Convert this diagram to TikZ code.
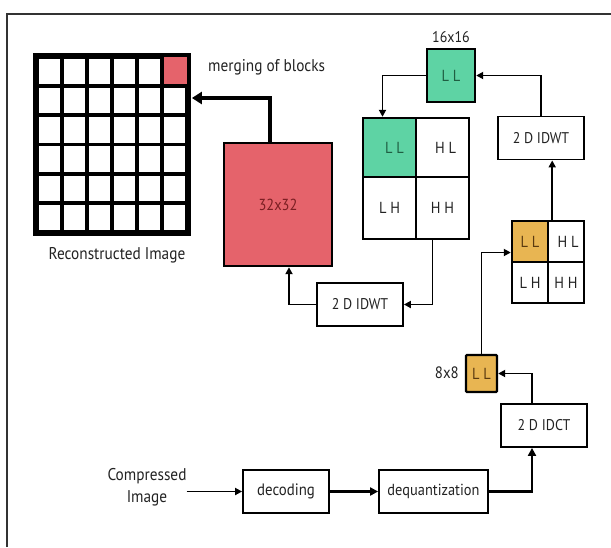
\documentclass[tikz,border=0pt]{standalone}
\usepackage{fontspec}
\setmainfont{PT Sans}[FakeStretch=0.9]
\usetikzlibrary{arrows.meta}
\definecolor{redblk}{HTML}{E5636B}
\definecolor{greenblk}{HTML}{5ED3A4}
\definecolor{orangeblk}{HTML}{E8B552}
\definecolor{darkred}{HTML}{7A1E22}
\definecolor{darkgreen}{HTML}{1F5E42}
\definecolor{darkbrown}{HTML}{5A3A10}
\definecolor{framecol}{HTML}{333333}
\definecolor{txtcol}{HTML}{222222}
\tikzset{
  txt/.style={font=\fontsize{17}{20}\selectfont, inner sep=0pt, text=txtcol},
  box/.style={draw, line width=1.8pt, minimum width=#1, minimum height=43pt, inner sep=0pt, font=\fontsize{15.5}{18}\selectfont, text=txtcol},
  box/.default=86pt,
  cell/.style={draw, line width=2.4pt, inner sep=0pt, font=\fontsize{16}{18}\selectfont, text=txtcol},
  arrow/.style={line width=1.8pt, -{Triangle[length=7pt,width=7pt]}},
  thickarrow/.style={line width=2.6pt, -{Triangle[length=8pt,width=8pt]}}
}
\begin{document}
\begin{tikzpicture}[x=1pt,y=-1pt]
\useasboundingbox (0,0) rectangle (611,547);
% frame
\draw[line width=1.8pt, framecol] (7,547) -- (7,14) -- (611,14);

% reconstructed image grid
\node[draw, line width=3.8pt, minimum width=150pt, minimum height=175pt, inner sep=0pt] (img) at (112,144.5) {};
\fill[redblk] (162,57) rectangle (187,86.17);
\foreach \i in {1,...,5} {
  \draw[line width=3.8pt] (37+25*\i,57) -- (37+25*\i,232);
  \draw[line width=3.8pt] (37,57+29.1667*\i) -- (187,57+29.1667*\i);
}
\draw[line width=3.8pt] (img.north west) rectangle (img.south east);
\node[txt] (recon) at (117,255) {Reconstructed Image};
\node[txt, anchor=west] (merge) at (208,67) {merging of blocks};

% 32x32 block
\node[draw, line width=2.4pt, fill=redblk, minimum width=108pt, minimum height=123pt, inner sep=0pt, text=darkred, font=\fontsize{16}{18}\selectfont] (red) at (278,204.5) {32x32};

% lower 2D IDWT
\node[box] (idwtL) at (360,304.5) {2 D IDWT};

% big quad
\node[cell, fill=greenblk, minimum width=53pt, minimum height=59pt, text=darkgreen] (bLL) at (389.5,147.5) {\hspace{10pt}L L};
\node[cell, minimum width=53pt, minimum height=59pt] (bHL) at (442.5,147.5) {\hspace{6pt}H L};
\node[cell, minimum width=53pt, minimum height=62pt] (bLH) at (389.5,208) {L H};
\node[cell, minimum width=53pt, minimum height=62pt] (bHH) at (442.5,208) {H H};

% 16x16 LL
\node[cell, fill=greenblk, minimum width=48pt, minimum height=53pt, text=darkgreen] (ll16) at (451,75.5) {L L};
\node[txt, font=\fontsize{15.5}{18}\selectfont] (lab16) at (451,37) {16x16};

% upper 2D IDWT
\node[box] (idwtU) at (541,138) {2 D IDWT};

% small quad
\node[cell, fill=orangeblk, minimum width=36pt, minimum height=41pt, text=darkbrown] (sLL) at (530,241.5) {L L};
\node[cell, minimum width=36pt, minimum height=41pt] (sHL) at (566,241.5) {\hspace{4pt}H L};
\node[cell, minimum width=36pt, minimum height=41pt] (sLH) at (530,282.5) {L H};
\node[cell, minimum width=36pt, minimum height=41pt] (sHH) at (566,282.5) {H H};

% 8x8 LL
\node[cell, fill=orangeblk, minimum width=31pt, minimum height=37pt, text=darkbrown, rounded corners=1pt] (ll8) at (481.5,373.5) {L L};
\node[txt, anchor=east, font=\fontsize{16.5}{19}\selectfont] (lab8) at (459,373) {8x8};

% 2D IDCT
\node[box] (idct) at (544,425.5) {2 D IDCT};

% bottom row
\node[txt, align=center, font=\fontsize{17}{22}\selectfont] (comp) at (147,487) {Compressed\\Image};
\node[box, font=\fontsize{16.5}{19}\selectfont] (dec) at (286,491.5) {decoding};
\node[box=109pt, font=\fontsize{16}{19}\selectfont] (deq) at (433.5,491.5) {dequantization};

% connectors
\draw[arrow] (comp.east |- dec.west) -- (dec.west);
\draw[thickarrow] (dec.east) -- (deq.west);
\draw[thickarrow] (deq.east) -| ([xshift=-12pt]idct.south);
\draw[arrow] ([xshift=-12pt]idct.north) |- (ll8.east);
\draw[arrow] (ll8.north) |- ([yshift=-11pt]sLL.west);
\draw[arrow] ([xshift=3pt]sLL.north east) -- ([xshift=3pt]sLL.north east |- idwtU.south);
\draw[arrow] (idwtU.north) |- (ll16.east);
\draw[arrow] (ll16.west) -| ([xshift=-7pt]bLL.north);
\draw[arrow] ([xshift=-10pt]bHH.south) |- (idwtL.east);
\draw[arrow] (idwtL.west) -| ([xshift=11pt]red.south);
\draw[line width=3.5pt, -{Triangle[length=10pt,width=12pt]}] ([xshift=-8pt]red.north) |- ([xshift=3pt]img.east |- 0,98);
\end{tikzpicture}
\end{document}
